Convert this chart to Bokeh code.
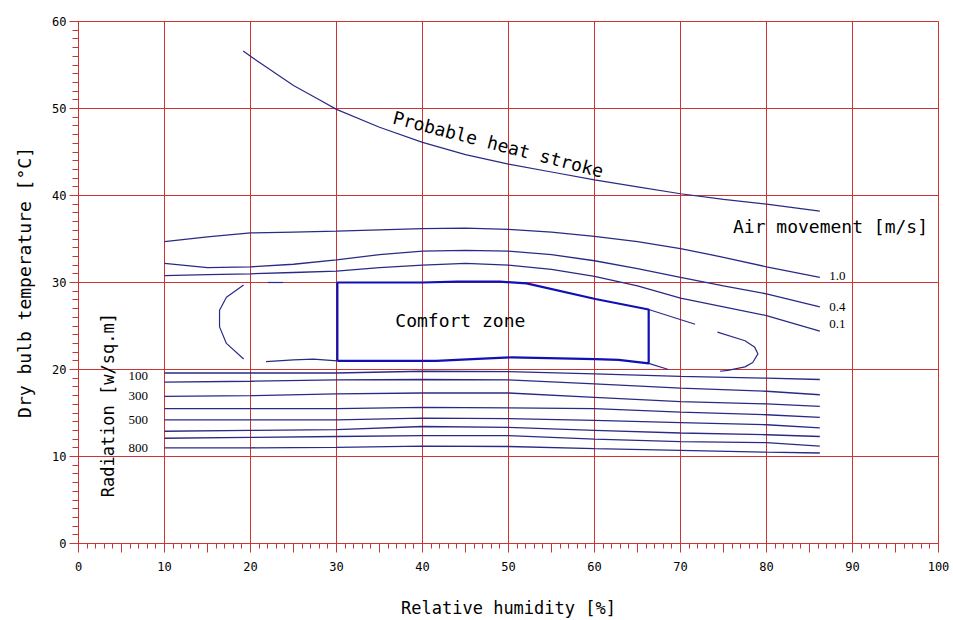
from bokeh.plotting import figure
from bokeh.models import SingleIntervalTicker, Range1d, Label
from bokeh.embed import file_html
from bokeh.resources import INLINE

# ---------------- data ----------------
heat_x = [19.15, 20, 22, 25, 28, 30, 35, 40, 45, 50, 55, 60, 65, 70, 75, 80, 86.2]
heat_y = [56.6, 56.0, 54.65, 52.65, 51.0, 49.9, 47.85, 46.1, 44.7, 43.6, 42.7, 41.8, 41.0, 40.2, 39.55, 39.0, 38.2]

air_x = [10, 15, 20, 25, 30, 35, 40, 45, 50, 55, 60, 65, 70, 75, 80, 86.2]
air_10 = [34.7, 35.25, 35.7, 35.8, 35.9, 36.05, 36.2, 36.25, 36.1, 35.8, 35.3, 34.7, 33.9, 32.9, 31.8, 30.6]
air_04 = [32.2, 31.7, 31.8, 32.1, 32.6, 33.2, 33.6, 33.7, 33.6, 33.2, 32.5, 31.6, 30.6, 29.6, 28.7, 27.2]
air_01 = [30.8, 30.9, 31.0, 31.15, 31.3, 31.7, 32.0, 32.2, 32.0, 31.5, 30.7, 29.6, 28.2, 27.2, 26.2, 24.4]
air_labels = ["1.0", "0.4", "0.1"]

comfort_x = [30.1, 30.1, 40, 44, 49, 52.1, 60.1, 66.3, 66.3, 62.8, 60.1, 50.4, 45.8, 41.6, 30.1]
comfort_y = [21.0, 30.0, 30.0, 30.1, 30.1, 29.9, 28.1, 26.9, 20.7, 21.1, 21.2, 21.4, 21.2, 21.0, 21.0]

dash_top_x = [22.0, 23.8]
dash_top_y = [30.0, 30.0]
ext_top_x = [66.3, 71.7]
ext_top_y = [26.9, 25.2]
hook_x = [74.3, 77.5, 78.6, 79.0, 78.4, 77.5, 75.5, 74.6]
hook_y = [24.3, 23.3, 22.6, 21.8, 20.8, 20.3, 19.9, 19.8]
arc_x = [19.2, 17.2, 16.4, 16.4, 17.2, 19.2]
arc_y = [29.7, 28.3, 26.8, 24.9, 23.0, 21.2]
low_left_x = [21.8, 25.0, 27.3, 30.1]
low_left_y = [20.9, 21.1, 21.2, 21.0]
low_right_x = [66.3, 68.6]
low_right_y = [20.7, 20.0]

rad_x = [10, 20, 30, 40, 50, 60, 70, 80, 86.2]
rad_1 = [19.6, 19.6, 19.6, 19.8, 19.75, 19.5, 19.2, 19.0, 18.85]
rad_2 = [18.55, 18.65, 18.8, 18.85, 18.8, 18.35, 17.85, 17.5, 17.1]
rad_3 = [16.9, 17.0, 17.2, 17.3, 17.3, 16.8, 16.3, 16.05, 15.75]
rad_4 = [15.5, 15.5, 15.5, 15.65, 15.6, 15.5, 15.1, 14.8, 14.5]
rad_5 = [14.2, 14.2, 14.2, 14.4, 14.35, 14.15, 13.9, 13.65, 13.3]
rad_6 = [12.9, 13.0, 13.1, 13.45, 13.35, 13.0, 12.7, 12.5, 12.3]
rad_7 = [12.1, 12.2, 12.3, 12.4, 12.4, 12.0, 11.7, 11.6, 11.2]
rad_8 = [11.0, 11.0, 11.05, 11.2, 11.15, 10.9, 10.7, 10.5, 10.4]
rad_labels = ["100", "300", "500", "800"]

# ---------------- styling ----------------
RED = "#cc3333"
NAVY = "#2a2a86"
BLUE = "#1010b4"
MONO = "DejaVu Sans Mono"

p = figure(frame_width=860, frame_height=522,
           x_range=Range1d(0, 100), y_range=Range1d(0, 60),
           output_backend="svg", toolbar_location=None,
           min_border_left=78, min_border_right=12,
           min_border_top=21, min_border_bottom=73)
p.background_fill_color = "white"
p.border_fill_color = "white"
p.outline_line_color = RED

# axes
p.xaxis.ticker = SingleIntervalTicker(interval=5, num_minor_ticks=5)
p.xaxis.major_label_overrides = {v: "" for v in range(5, 100, 10)}
p.yaxis.ticker = SingleIntervalTicker(interval=10, num_minor_ticks=10)
for ax in (p.xaxis, p.yaxis):
    ax.axis_line_color = RED
    ax.major_tick_line_color = RED
    ax.minor_tick_line_color = RED
    ax.major_tick_in = 0
    ax.minor_tick_in = 0
    ax.major_label_text_font = MONO
    ax.major_label_text_font_size = "12px"
    ax.major_label_text_color = "black"
    ax.axis_label_text_font = MONO
    ax.axis_label_text_font_style = "normal"
    ax.axis_label_text_color = "black"
p.xaxis.major_tick_out = 9
p.xaxis.minor_tick_out = 5
p.yaxis.major_tick_out = 9
p.yaxis.minor_tick_out = 6
p.xaxis.major_label_standoff = 9
p.yaxis.major_label_standoff = 3
p.xaxis.axis_label = "Relative humidity [%]"
p.xaxis.axis_label_text_font_size = "17px"
p.xaxis.axis_label_standoff = 24
p.yaxis.axis_label = "Dry bulb temperature [°C]"
p.yaxis.axis_label_text_font_size = "18px"
p.yaxis.axis_label_standoff = 14

# grid
p.xgrid.ticker = SingleIntervalTicker(interval=10)
p.ygrid.ticker = SingleIntervalTicker(interval=10)
for g in (p.xgrid, p.ygrid):
    g.grid_line_color = RED
    g.grid_line_alpha = 1.0
    g.grid_line_width = 1

# curves
p.line(heat_x, heat_y, line_color=NAVY, line_width=1.2)
p.multi_line([air_x, air_x, air_x], [air_10, air_04, air_01], line_color=NAVY, line_width=1.3)
p.multi_line([rad_x] * 8, [rad_1, rad_2, rad_3, rad_4, rad_5, rad_6, rad_7, rad_8],
             line_color=NAVY, line_width=1.3)
p.multi_line([dash_top_x, ext_top_x, hook_x, arc_x, low_left_x, low_right_x],
             [dash_top_y, ext_top_y, hook_y, arc_y, low_left_y, low_right_y],
             line_color=NAVY, line_width=1.2)
p.line(comfort_x, comfort_y, line_color=BLUE, line_width=2.2)

# texts
def lab(x, y, t, size, font=MONO, align="left", baseline="middle", angle=0.0):
    p.add_layout(Label(x=x, y=y, text=t, text_font=font, text_font_size=size,
                       text_color="black", text_align=align, text_baseline=baseline,
                       angle=angle, angle_units="deg"))

lab(48.8, 45.9, "Probable heat stroke", "18px", align="center", angle=-14.5)
lab(76.1, 36.4, "Air movement [m/s]", "18px")
for t, yy in zip(air_labels, [30.7, 27.2, 25.2]):
    lab(87.3, yy, t, "13px", font="Liberation Serif")
lab(44.4, 25.6, "Comfort zone", "18px", align="center")
for t, yy in zip(rad_labels, [19.3, 16.9, 14.25, 11.0]):
    lab(5.8, yy, t, "13px", font="Liberation Serif")
lab(3.4, 15.9, "Radiation [w/sq.m]", "17px", align="center", angle=90)

open("out.html", "w").write(file_html(p, INLINE))
